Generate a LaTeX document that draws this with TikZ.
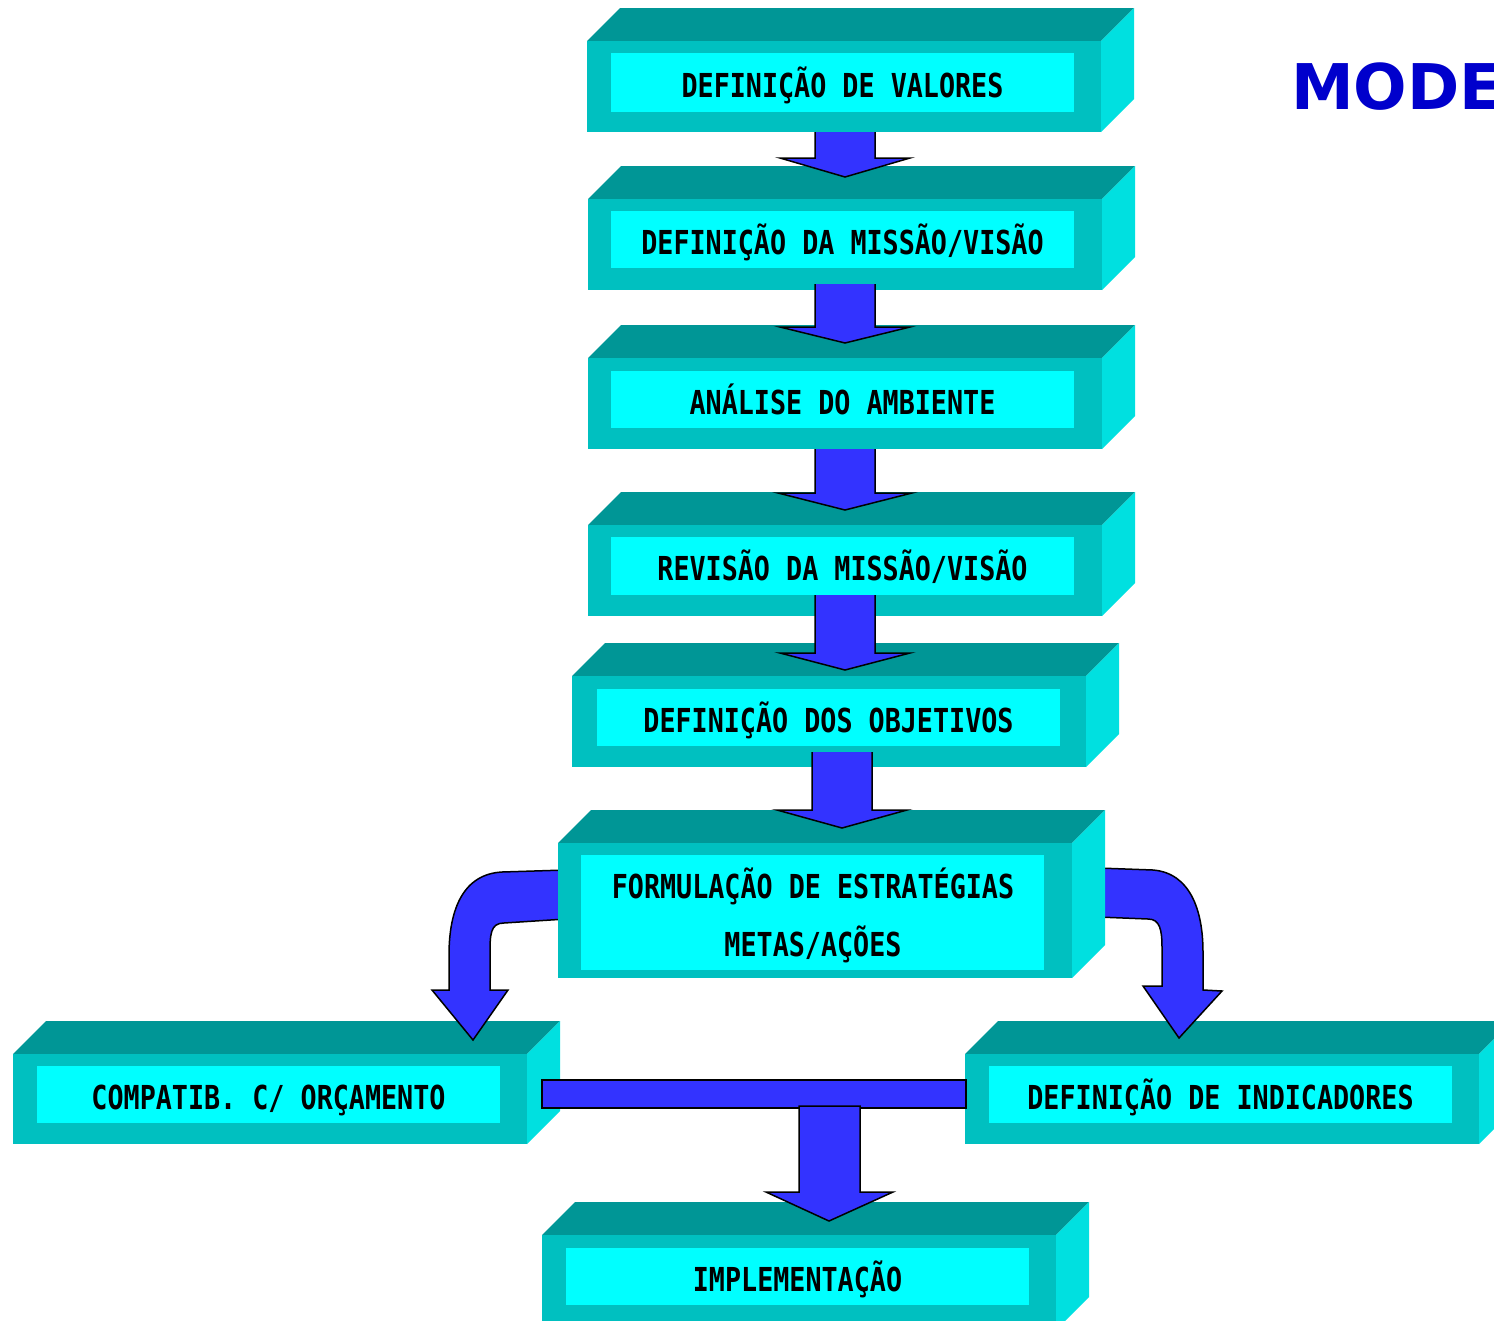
\documentclass[tikz,border=0pt]{standalone}
\usepackage{fontspec}
\usetikzlibrary{calc}
\newfontfamily\boxfont[FakeStretch=0.81]{DejaVu Sans Mono}
\newfontfamily\titlefont{DejaVu Sans}
\definecolor{topc}{RGB}{0,150,150}
\definecolor{frontc}{RGB}{0,192,192}
\definecolor{sidec}{RGB}{0,224,224}
\definecolor{innerc}{RGB}{0,255,255}
\definecolor{arrowc}{RGB}{51,51,255}
\definecolor{titlec}{RGB}{0,0,204}
\tikzset{
  lbl/.style={font=\boxfont\bfseries\fontsize{33}{40}\selectfont, anchor=base, inner sep=0pt, text=black},
  blockarrow/.style={fill=arrowc, draw=black, line width=1.5pt, line join=miter},
  arrowline/.style={draw=black, line width=1.5pt, line join=miter},
}
% #1 x1, #2 y1 (front top), #3 x2, #4 y2 (front bottom), #5 ix1, #6 iy1, #7 ix2, #8 iy2, #9 name
\newcommand\cubebox[9]{%
  \fill[topc] (#1,#2) -- (#1+33,#2-33) -- (#3+33,#2-33) -- (#3,#2) -- cycle;
  \fill[frontc] (#1,#2) rectangle (#3,#4);
  \fill[sidec] (#3,#2) -- (#3+33,#2-33) -- (#3+33,#4-33) -- (#3,#4) -- cycle;
  \fill[innerc] (#5,#6) rectangle (#7,#8);
  \coordinate (#9) at ($(#5,#6)!0.5!(#7,#8)$);
}
% straight block arrow: #1 cx, #2 top, #3 head base, #4 tip, #5 head half width
\newcommand\downblock[5]{%
  \fill[arrowc] (#1-30,#2) -- (#1-30,#3) -- (#1-#5,#3) -- (#1,#4) -- (#1+#5,#3) -- (#1+30,#3) -- (#1+30,#2) -- cycle;
  \draw[arrowline] (#1-30,#2) -- (#1-30,#3) -- (#1-#5,#3) -- (#1,#4) -- (#1+#5,#3) -- (#1+30,#3) -- (#1+30,#2);
}
\begin{document}
\begin{tikzpicture}[x=1pt,y=-1pt]
\useasboundingbox (0,0) rectangle (1494,1320);
\clip (0,0) rectangle (1494,1320);
\fill[white] (0,0) rectangle (1494,1320);

% boxes
\cubebox{587}{41}{1101}{132}{611}{53}{1074}{112}{b1}
\cubebox{588}{199}{1102}{290}{611}{211}{1074}{268}{b2}
\cubebox{588}{358}{1102}{449}{611}{371}{1074}{428}{b3}
\cubebox{588}{525}{1102}{616}{611}{537}{1074}{595}{b4}
\cubebox{572}{676}{1086}{767}{597}{689}{1060}{746}{b5}
\cubebox{13}{1054}{527}{1144}{37}{1066}{500}{1123}{b7}
\cubebox{965}{1054}{1479}{1144}{989}{1066}{1452}{1123}{b8}
\cubebox{542}{1235}{1056}{1330}{566}{1248}{1029}{1305}{b9}

% curved arrows (behind box 6)
\filldraw[blockarrow] (566,870) -- (502,872) .. controls (464,874) and (449,908) .. (449,955) -- (449,990)
  -- (432,990) -- (473,1040) -- (508,990) -- (490,990) -- (490,955)
  .. controls (490,935) and (490,923) .. (504,923) -- (566,919) -- cycle;
\filldraw[blockarrow] (1098,868) -- (1153,870) .. controls (1190,873) and (1203,910) .. (1203,952) -- (1203,990)
  -- (1222,991) -- (1179,1038) -- (1143,986) -- (1162,986) -- (1162,948)
  .. controls (1162,930) and (1160,919) .. (1148,919) -- (1098,917) -- cycle;

\cubebox{558}{843}{1072}{978}{581}{855}{1044}{970}{b6}

% straight arrows
\downblock{845}{132}{158}{177}{65}
\downblock{845}{284}{327}{343}{65}
\downblock{845}{449}{493}{510}{67}
\downblock{845}{595}{653}{670}{65}
\downblock{842}{752}{810}{828}{65}

% bar and final arrow
\filldraw[blockarrow] (542,1080) rectangle (966,1108);
\filldraw[blockarrow] (799,1106) -- (799,1192) -- (766,1192) -- (829,1221) -- (893,1192) -- (860,1192) -- (860,1106) -- cycle;

% labels
\node[lbl] (t1) at ($(b1)+(0,14.5)$) {DEFINIÇÃO DE VALORES};
\node[lbl] (t2) at ($(b2)+(0,14.5)$) {DEFINIÇÃO DA MISSÃO/VISÃO};
\node[lbl] (t3) at ($(b3)+(0,14.5)$) {ANÁLISE DO AMBIENTE};
\node[lbl] (t4) at ($(b4)+(0,14.5)$) {REVISÃO DA MISSÃO/VISÃO};
\node[lbl] (t5) at ($(b5)+(0,14.5)$) {DEFINIÇÃO DOS OBJETIVOS};
\node[lbl] (t6a) at (813,898) {FORMULAÇÃO DE ESTRATÉGIAS};
\node[lbl] (t6b) at (813,956) {METAS/AÇÕES};
\node[lbl] (t7) at ($(b7)+(0,14.5)$) {COMPATIB. C/ ORÇAMENTO};
\node[lbl] (t8) at ($(b8)+(0,14.5)$) {DEFINIÇÃO DE INDICADORES};
\node[lbl] (t9) at ($(b9)+(0,14.5)$) {IMPLEMENTAÇÃO};

\node[font=\titlefont\bfseries\fontsize{63}{70}\selectfont, text=titlec, anchor=base west, inner sep=0pt] (title) at (1291,109) {MODE};
\end{tikzpicture}
\end{document}
